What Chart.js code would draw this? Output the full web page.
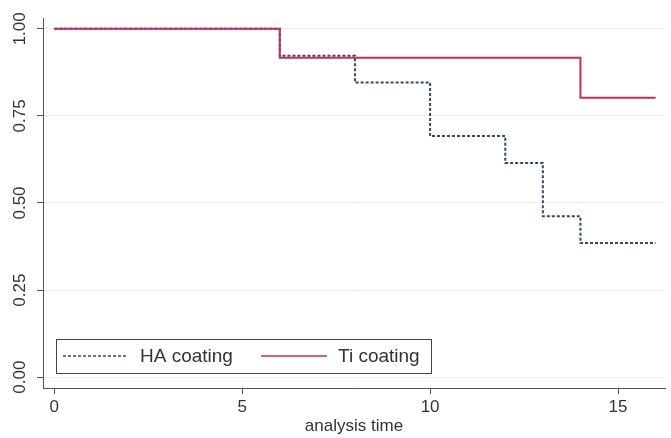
<!DOCTYPE html>
<html>
<head>
<meta charset="utf-8">
<script src="https://cdn.jsdelivr.net/npm/chart.js@4/dist/chart.umd.min.js"></script>
<style>
  html, body { margin: 0; padding: 0; background: #fff; }
  #wrap { width: 671px; height: 438px; }
</style>
</head>
<body>
<div id="wrap"><canvas id="kmChart" width="671" height="438"></canvas></div>
<script>
// Kaplan-Meier estimates
const haTimes = [0, 6, 8, 10, 12, 13, 14, 16];
const haSurvival = [1.0, 0.923, 0.846, 0.692, 0.615, 0.462, 0.385, 0.385];
const tiTimes = [0, 6, 14, 16];
const tiSurvival = [1.0, 0.917, 0.802, 0.802];

const xTicks = [0, 5, 10, 15];
const yTicks = [0, 0.25, 0.5, 0.75, 1];
const seriesLabels = ["HA coating", "Ti coating"];
const xTitle = "analysis time";

const FONT = "'Liberation Sans', Arial, sans-serif";
const haColor = "#2b4c70";
const tiColor = "#c42e5a";
const axisColor = "#555555";

function toPoints(xs, ys) {
    return xs.map((x, i) => ({ x: x, y: ys[i] }));
}

// legend box sitting inside the plot, bottom left
const insideLegend = {
    id: "insideLegend",
    afterDatasetsDraw(chart) {
        const ctx = chart.ctx;
        const area = chart.chartArea;
        const left = area.left + 13;
        const top = area.bottom - 49;
        const w = 375, h = 34;
        const midY = top + h / 2;

        ctx.save();
        ctx.fillStyle = "#ffffff";
        ctx.fillRect(left, top, w, h);
        ctx.strokeStyle = "#444444";
        ctx.lineWidth = 1;
        ctx.strokeRect(left + 0.5, top + 0.5, w, h);

        const items = [
            { ds: chart.data.datasets[0], x0: left + 7, x1: left + 71, tx: left + 84 },
            { ds: chart.data.datasets[1], x0: left + 205, x1: left + 271, tx: left + 282 }
        ];
        items.forEach(it => {
            ctx.beginPath();
            ctx.strokeStyle = it.ds.borderColor;
            ctx.lineWidth = 1.5;
            ctx.setLineDash(it.ds.borderDash || []);
            ctx.moveTo(it.x0, midY);
            ctx.lineTo(it.x1, midY);
            ctx.stroke();
            ctx.setLineDash([]);
            ctx.fillStyle = "#333333";
            ctx.font = "19px " + FONT;
            ctx.textBaseline = "middle";
            ctx.textAlign = "left";
            ctx.fillText(it.ds.label, it.tx, midY + 1);
        });
        ctx.restore();
    }
};

const ctx = document.getElementById("kmChart").getContext("2d");

new Chart(ctx, {
    type: "line",
    data: {
        datasets: [
            {
                label: seriesLabels[0],
                data: toPoints(haTimes, haSurvival),
                borderColor: haColor,
                borderWidth: 2,
                borderDash: [3, 2],
                stepped: true,
                pointRadius: 0,
                fill: false,
                order: 2
            },
            {
                label: seriesLabels[1],
                data: toPoints(tiTimes, tiSurvival),
                borderColor: tiColor,
                borderWidth: 2,
                stepped: true,
                pointRadius: 0,
                fill: false,
                order: 1
            }
        ]
    },
    options: {
        responsive: false,
        animation: false,
        devicePixelRatio: 1,
        layout: { padding: { top: 18, right: 6, left: 0, bottom: 0 } },
        plugins: {
            legend: { display: false },
            tooltip: { enabled: false }
        },
        scales: {
            x: {
                type: "linear",
                min: -0.3,
                max: 16.25,
                afterBuildTicks: s => { s.ticks = xTicks.map(v => ({ value: v })); },
                afterFit: s => { s.height = 50; },
                grid: { drawOnChartArea: false, tickLength: 6, tickColor: axisColor },
                border: { color: axisColor, width: 1 },
                ticks: {
                    color: "#333333",
                    font: { family: FONT, size: 17 },
                    padding: 3,
                    maxRotation: 0
                },
                title: {
                    display: true,
                    text: xTitle,
                    color: "#333333",
                    font: { family: FONT, size: 17 },
                    padding: { top: 0, bottom: 1 }
                }
            },
            y: {
                min: -0.031,
                max: 1.031,
                afterBuildTicks: s => { s.ticks = yTicks.map(v => ({ value: v })); },
                afterFit: s => { s.width = 43; },
                grid: { color: "#ececec", tickLength: 6, tickColor: axisColor },
                border: { color: axisColor, width: 1 },
                ticks: {
                    color: "#333333",
                    font: { family: FONT, size: 17 },
                    padding: 0,
                    minRotation: 90,
                    maxRotation: 90,
                    crossAlign: "center",
                    callback: v => Number(v).toFixed(2)
                }
            }
        }
    },
    plugins: [insideLegend]
});
</script>
</body>
</html>
